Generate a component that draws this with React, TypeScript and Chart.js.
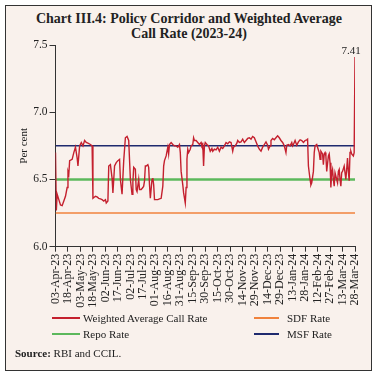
import React, { useEffect, useRef } from "react";
import { Chart, registerables } from "chart.js";

Chart.register(...registerables);

// x values: days since 03-Apr-2023
const tickLabels = [
  "03-Apr-23", "18-Apr-23", "03-May-23", "18-May-23", "02-Jun-23", "17-Jun-23",
  "02-Jul-23", "17-Jul-23", "01-Aug-23", "16-Aug-23", "31-Aug-23", "15-Sep-23",
  "30-Sep-23", "15-Oct-23", "30-Oct-23", "14-Nov-23", "29-Nov-23", "14-Dec-23",
  "29-Dec-23", "13-Jan-24", "28-Jan-24", "12-Feb-24", "27-Feb-24", "13-Mar-24",
  "28-Mar-24",
];
const tickStepDays = 15;

const rateDays = [
  0, 1, 2, 4, 6, 8, 10, 12, 14, 15, 16, 17, 20, 22, 24, 26, 27, 29, 31, 33, 35, 37, 39, 42, 44,
  45, 48, 50, 52, 54, 56, 58, 60, 61, 63, 64, 66, 68, 69, 71, 73, 75, 77, 78, 80, 82, 84, 86, 88,
  90, 92, 93, 94, 96, 97, 98, 100, 101, 103, 105, 106, 107, 108, 109, 111, 112, 113, 114, 116, 117,
  118, 119, 121, 123, 125, 127, 129, 130, 131, 133, 135, 136, 137, 139, 141, 143, 145, 147, 149,
  150, 151, 153, 154, 156, 157, 158, 159, 160, 162, 163, 165, 166, 167, 169, 171, 173, 175, 176,
  177, 178, 179, 180, 182, 184,
  186, 188, 189, 191, 193, 195, 197, 199, 201, 203, 205, 207, 209, 211, 213, 214, 216, 218, 219,
  221, 223, 225, 227, 229, 231, 233, 235, 237, 239, 241, 243, 245, 247, 249, 251, 253, 255, 256,
  258, 259, 261, 263, 265, 267, 269, 271, 273, 275,
  277, 278, 280, 282, 284, 285, 286, 288, 290, 292, 294, 296, 298, 300, 302, 303, 304, 306, 307,
  308, 310, 311, 312, 314, 315, 317, 318, 319, 321, 322, 323, 324, 325, 326, 328, 329, 330, 331,
  332, 333, 334, 335, 336, 338, 339, 340, 341, 342, 343, 344, 345, 347, 348, 349, 350, 351, 352,
  353, 354, 355, 356, 358, 359, 360,
];

const callRate = [
  6.70, 6.27, 6.39, 6.35, 6.31, 6.305, 6.34, 6.375, 6.44, 6.56, 6.54, 6.64, 6.65, 6.70, 6.74, 6.66, 6.60, 6.75, 6.775, 6.75, 6.79, 6.775, 6.77, 6.76, 6.75,
  6.36, 6.375, 6.37, 6.36, 6.355, 6.35, 6.34, 6.35, 6.325, 6.34, 6.60, 6.61, 6.51, 6.40, 6.60, 6.625, 6.64, 6.65, 6.50, 6.39, 6.64, 6.81, 6.82, 6.79,
  6.50, 6.39, 6.48, 6.59, 6.575, 6.425, 6.41, 6.50, 6.425, 6.425, 6.44, 6.45, 6.49, 6.60, 6.60, 6.61, 6.59, 6.46, 6.36, 6.50, 6.51,
  6.46, 6.35, 6.35, 6.35, 6.355, 6.36, 6.45, 6.60, 6.64, 6.675, 6.74, 6.69, 6.76, 6.775, 6.76, 6.75, 6.75, 6.74, 6.76,
  6.70, 6.56, 6.46, 6.40, 6.325, 6.44, 6.65, 6.725, 6.70, 6.725, 6.75, 6.76, 6.81, 6.79, 6.79, 6.775, 6.76, 6.775, 6.75,
  6.76, 6.60, 6.75, 6.775, 6.76, 6.75,
  6.71, 6.73, 6.71, 6.725, 6.72, 6.74, 6.71, 6.74, 6.73, 6.75, 6.775, 6.765, 6.78, 6.775, 6.71, 6.74, 6.75, 6.77, 6.79,
  6.775, 6.78, 6.80, 6.775, 6.79, 6.805, 6.81, 6.80, 6.82, 6.81, 6.78, 6.75, 6.725, 6.71, 6.74, 6.76, 6.78, 6.755, 6.725,
  6.75, 6.79, 6.805, 6.795, 6.81, 6.825, 6.81, 6.79, 6.775, 6.75,
  6.70, 6.755, 6.76, 6.75, 6.775, 6.75, 6.76, 6.79, 6.755, 6.78, 6.795, 6.79, 6.775, 6.79, 6.795, 6.80, 6.60, 6.50, 6.46,
  6.475, 6.56, 6.70, 6.75, 6.76, 6.74, 6.70, 6.65, 6.71, 6.69, 6.61, 6.69, 6.70, 6.675, 6.56, 6.675, 6.69, 6.625, 6.44,
  6.55, 6.575, 6.50, 6.45, 6.55, 6.50, 6.475, 6.56, 6.575, 6.50, 6.45, 6.55, 6.56, 6.60, 6.55, 6.50, 6.575, 6.66, 6.56,
  6.49, 6.70, 6.71, 6.69, 6.675, 6.70, 7.41,
];

const sdfRate = 6.25;
const repoRate = 6.5;
const msfRate = 6.75;
const yTicks = [6.0, 6.5, 7.0, 7.5];

const COLORS = {
  wacr: "#c4202e",
  sdf: "#f0823c",
  repo: "#5cb85c",
  msf: "#1f2a6e",
};

const FONT = '"Liberation Serif", "Times New Roman", serif';
const TEXT = "#222222";

const lastValueLabel = {
  id: "lastValueLabel",
  afterDatasetsDraw(chart: any) {
    const meta = chart.getDatasetMeta(0);
    const pts = meta.data;
    if (!pts || !pts.length) return;
    const pt = pts[pts.length - 1];
    const ctx = chart.ctx;
    ctx.save();
    ctx.font = `11px ${FONT}`;
    ctx.fillStyle = TEXT;
    ctx.textAlign = "center";
    ctx.textBaseline = "alphabetic";
    ctx.fillText(callRate[callRate.length - 1].toFixed(2), pt.x - 4, pt.y - 3);
    ctx.restore();
  },
};

function ChartCanvas() {
  const ref = useRef<HTMLCanvasElement | null>(null);
  useEffect(() => {
    if (!ref.current) return;
    const lastDay = (tickLabels.length - 1) * tickStepDays;
    const flat = (v: number) => [
      { x: 0, y: v },
      { x: lastDay, y: v },
    ];
    const chart = new Chart(ref.current, {
      type: "line",
      data: {
        datasets: [
          {
            label: "Weighted Average Call Rate",
            data: rateDays.map((d, i) => ({ x: d, y: callRate[i] })),
            borderColor: COLORS.wacr,
            borderWidth: 1.4,
            pointRadius: 0,
            tension: 0,
          },
          {
            label: "SDF Rate",
            data: flat(sdfRate),
            borderColor: COLORS.sdf,
            borderWidth: 1.5,
            pointRadius: 0,
          },
          {
            label: "Repo Rate",
            data: flat(repoRate),
            borderColor: COLORS.repo,
            borderWidth: 2.5,
            pointRadius: 0,
          },
          {
            label: "MSF Rate",
            data: flat(msfRate),
            borderColor: COLORS.msf,
            borderWidth: 1.5,
            pointRadius: 0,
          },
        ],
      },
      options: {
        animation: false,
        responsive: false,
        maintainAspectRatio: false,
        events: [],
        layout: { padding: { left: 17.4, top: 45, right: 23, bottom: 42.3 } },
        plugins: {
          legend: { display: false },
          title: { display: false },
          tooltip: { enabled: false },
        },
        scales: {
          x: {
            type: "linear",
            min: 0,
            max: lastDay,
            afterBuildTicks: (scale: any) => {
              scale.ticks = tickLabels.map((_, i) => ({ value: i * tickStepDays }));
            },
            afterFit: (scale: any) => {
              scale.height = 90;
            },
            grid: {
              display: true,
              drawOnChartArea: false,
              drawTicks: true,
              tickLength: 5,
              color: "#333333",
            },
            border: { display: true, color: "#333333", width: 1 },
            ticks: {
              autoSkip: false,
              maxRotation: 90,
              minRotation: 90,
              padding: 2,
              color: TEXT,
              font: { family: FONT, size: 12 },
              callback: (v: any) => tickLabels[Math.round(Number(v) / tickStepDays)] ?? "",
            },
          },
          y: {
            type: "linear",
            min: 6,
            max: 7.5,
            afterBuildTicks: (scale: any) => {
              scale.ticks = yTicks.map((v) => ({ value: v }));
            },
            afterFit: (scale: any) => {
              scale.width = 38.1;
            },
            grid: {
              display: true,
              drawOnChartArea: false,
              drawTicks: true,
              tickLength: 6,
              color: "#333333",
            },
            border: { display: true, color: "#333333", width: 1 },
            ticks: {
              padding: 2,
              color: TEXT,
              font: { family: FONT, size: 11.5 },
              callback: (v: any) => Number(v).toFixed(1),
            },
            title: {
              display: true,
              text: "Per cent",
              color: TEXT,
              padding: 0,
              font: { family: FONT, size: 11 },
            },
          },
        },
      },
      plugins: [lastValueLabel],
    } as any);
    return () => chart.destroy();
  }, []);
  return (
    <canvas
      ref={ref}
      width={378}
      height={379}
      style={{ position: "absolute", left: 0, top: 0, width: 378, height: 379 }}
    />
  );
}

const legendItems = [
  { label: "Weighted Average Call Rate", color: COLORS.wacr, lineX: 52, textX: 83, y: 318 },
  { label: "SDF Rate", color: COLORS.sdf, lineX: 254, textX: 287, y: 318 },
  { label: "Repo Rate", color: COLORS.repo, lineX: 52, textX: 83, y: 334 },
  { label: "MSF Rate", color: COLORS.msf, lineX: 254, textX: 287, y: 334 },
];

export default function App() {
  return (
    <div
      style={{
        position: "absolute",
        left: 0,
        top: 0,
        width: 378,
        height: 379,
        background: "#ffffff",
        fontFamily: FONT,
        color: TEXT,
        overflow: "hidden",
      }}
    >
      <div
        style={{
          position: "absolute",
          left: 5,
          top: 5,
          width: 367,
          height: 366,
          boxSizing: "border-box",
          border: "1.5px solid #333333",
          background: "#f9f1ec",
        }}
      />
      <div
        style={{
          position: "absolute",
          left: 0,
          top: 10.5,
          width: 378,
          textAlign: "center",
          fontWeight: "bold",
          fontSize: 14,
          lineHeight: "15px",
        }}
      >
        Chart III.4: Policy Corridor and Weighted Average
        <br />
        Call Rate (2023-24)
      </div>
      <ChartCanvas />
      {legendItems.map((it) => (
        <React.Fragment key={it.label}>
          <div
            style={{
              position: "absolute",
              left: it.lineX,
              top: it.y - 1.25,
              width: it.lineX === 52 ? 28 : 25,
              height: 2.5,
              background: it.color,
            }}
          />
          <div
            style={{
              position: "absolute",
              left: it.textX,
              top: it.y - 7,
              fontSize: 11,
              lineHeight: "14px",
              whiteSpace: "nowrap",
            }}
          >
            {it.label}
          </div>
        </React.Fragment>
      ))}
      <div
        style={{
          position: "absolute",
          left: 15,
          top: 352.7 - 7,
          fontSize: 11,
          lineHeight: "14px",
          whiteSpace: "nowrap",
        }}
      >
        <b>Source:</b> RBI and CCIL.
      </div>
    </div>
  );
}
